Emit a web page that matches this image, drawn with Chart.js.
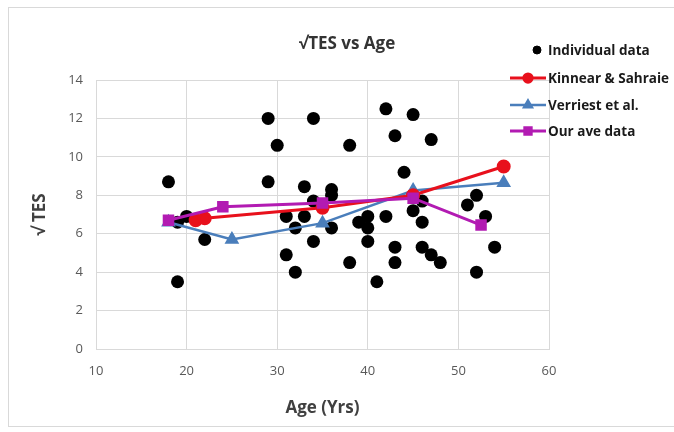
<!DOCTYPE html>
<html>
<head>
<meta charset="utf-8">
<script src="https://cdn.jsdelivr.net/npm/chart.js@4/dist/chart.umd.min.js"></script>
<style>
  html, body { margin: 0; padding: 0; background: #fff; }
  #frame { position: absolute; left: 8px; top: 7px; width: 670px; height: 420px; border: 1px solid #d9d9d9; box-sizing: border-box; }
  #wrap { position: absolute; left: 0; top: 0; width: 674px; height: 432px; }
</style>
</head>
<body>
<div id="frame"></div>
<div id="wrap"><canvas id="tesChart" width="674" height="432"></canvas></div>
<script>
// Individual data (age, sqrt TES)
const indivAge = [18, 19, 19, 20, 22, 29, 29, 30, 31, 31, 32, 32, 33, 33, 34, 34, 34, 36, 36, 36,
                  38, 38, 39, 40, 40, 40, 41, 42, 42, 43, 43, 43, 44, 45, 45, 46, 46, 46, 47, 47,
                  48, 51, 52, 52, 53, 54];
const indivTes = [8.7, 3.5, 6.6, 6.9, 5.7, 12.0, 8.7, 10.6, 6.9, 4.9, 4.0, 6.3, 8.45, 6.9, 12.0, 7.7, 5.6, 8.3, 8.0, 6.3,
                  10.6, 4.5, 6.6, 6.9, 6.3, 5.6, 3.5, 12.5, 6.9, 11.1, 5.3, 4.5, 9.2, 12.2, 7.2, 7.7, 6.6, 5.3, 10.9, 4.9,
                  4.5, 7.5, 8.0, 4.0, 6.9, 5.3];

// Kinnear & Sahraie
const kinAge = [21, 22, 35, 45, 55];
const kinTes = [6.7, 6.8, 7.35, 8.0, 9.5];

// Verriest et al.
const verAge = [18, 25, 35, 45, 55];
const verTes = [6.6, 5.7, 6.55, 8.25, 8.65];

// Our ave data
const oursAge = [18, 24, 35, 45, 52.5];
const oursTes = [6.7, 7.4, 7.6, 7.85, 6.45];

const xTicks = [10, 20, 30, 40, 50, 60];
const yTicks = [0, 2, 4, 6, 8, 10, 12, 14];

const FONT = "'Open Sans', 'Liberation Sans', sans-serif";

function toPoints(xs, ys) {
    return xs.map((x, i) => ({ x: x, y: ys[i] }));
}

// Title and legend drawn in the top right, as in the Excel original
const overlayPlugin = {
    id: 'overlay',
    afterDraw(chart) {
        const ctx = chart.ctx;
        ctx.save();
        ctx.fillStyle = '#333333';
        ctx.font = 'bold 17px ' + FONT;
        ctx.textAlign = 'center';
        ctx.textBaseline = 'middle';
        ctx.fillText('√TES vs Age', 347, 44);

        const rows = [50, 78, 105, 131];
        ctx.font = 'bold 13.5px ' + FONT;
        ctx.textAlign = 'left';
        chart.data.datasets.forEach((ds, i) => {
            const y = rows[i];
            if (ds.showLine) {
                ctx.strokeStyle = ds.borderColor;
                ctx.lineWidth = ds.borderWidth;
                ctx.beginPath();
                ctx.moveTo(510, y);
                ctx.lineTo(546, y);
                ctx.stroke();
            }
            ctx.fillStyle = ds.pointBackgroundColor;
            ctx.strokeStyle = ds.pointBorderColor;
            Chart.helpers.drawPoint(ctx, {
                pointStyle: ds.pointStyle,
                radius: ds.showLine ? ds.pointRadius * 0.75 : 4,
                rotation: 0,
                borderWidth: 1
            }, ds.showLine ? 528 : 537, y);
            ctx.fillStyle = '#1a1a1a';
            ctx.fillText(ds.label, 548, y + 1);
        });
        ctx.restore();
    }
};

const tesChart = new Chart(document.getElementById('tesChart'), {
    type: 'scatter',
    data: {
        datasets: [{
            label: 'Individual data',
            data: toPoints(indivAge, indivTes),
            pointStyle: 'circle',
            pointRadius: 6.5,
            pointBackgroundColor: '#000000',
            pointBorderColor: '#000000',
            borderColor: '#000000',
            borderWidth: 0,
            showLine: false,
            order: 3
        }, {
            label: 'Kinnear & Sahraie',
            data: toPoints(kinAge, kinTes),
            showLine: true,
            borderColor: '#e8101c',
            borderWidth: 3,
            pointStyle: 'circle',
            pointRadius: 5.5,
            pointBackgroundColor: '#e8101c',
            pointBorderColor: '#e8101c',
            order: 1
        }, {
            label: 'Verriest et al.',
            data: toPoints(verAge, verTes),
            showLine: true,
            borderColor: '#4a7ebb',
            borderWidth: 2.5,
            pointStyle: 'triangle',
            pointRadius: 6,
            pointBackgroundColor: '#4a7ebb',
            pointBorderColor: '#4a7ebb',
            order: 2
        }, {
            label: 'Our ave data',
            data: toPoints(oursAge, oursTes),
            showLine: true,
            borderColor: '#b21bb2',
            borderWidth: 3,
            pointStyle: 'rect',
            pointRadius: 6,
            pointBackgroundColor: '#b21bb2',
            pointBorderColor: '#b21bb2',
            order: 0
        }]
    },
    options: {
        responsive: false,
        animation: false,
        layout: { padding: { left: 0, right: 125, top: 80, bottom: 0 } },
        plugins: {
            legend: { display: false },
            title: { display: false },
            tooltip: { enabled: false }
        },
        scales: {
            x: {
                type: 'linear',
                min: 10,
                max: 60,
                afterBuildTicks: (scale) => { scale.ticks = xTicks.map(v => ({ value: v })); },
                afterFit: (scale) => { scale.height = 83; },
                grid: { color: '#d9d9d9', lineWidth: 1, drawTicks: false },
                border: { color: '#d9d9d9' },
                ticks: { color: '#595959', font: { family: FONT, size: 13 }, padding: 14 },
                title: {
                    display: true,
                    text: 'Age (Yrs)',
                    color: '#404040',
                    font: { family: FONT, size: 17, weight: 'bold' },
                    padding: { top: 0, bottom: 14 }
                }
            },
            y: {
                min: 0,
                max: 14,
                afterBuildTicks: (scale) => { scale.ticks = yTicks.map(v => ({ value: v })); },
                afterFit: (scale) => { scale.width = 96; },
                grid: { color: '#d9d9d9', lineWidth: 1, drawTicks: false },
                border: { color: '#d9d9d9' },
                ticks: { color: '#595959', font: { family: FONT, size: 13 }, padding: 13 },
                title: {
                    display: true,
                    text: '√ TES',
                    color: '#404040',
                    font: { family: FONT, size: 17, weight: 'bold' },
                    padding: { top: 30, bottom: 0 }
                }
            }
        }
    },
    plugins: [overlayPlugin]
});
</script>
</body>
</html>
